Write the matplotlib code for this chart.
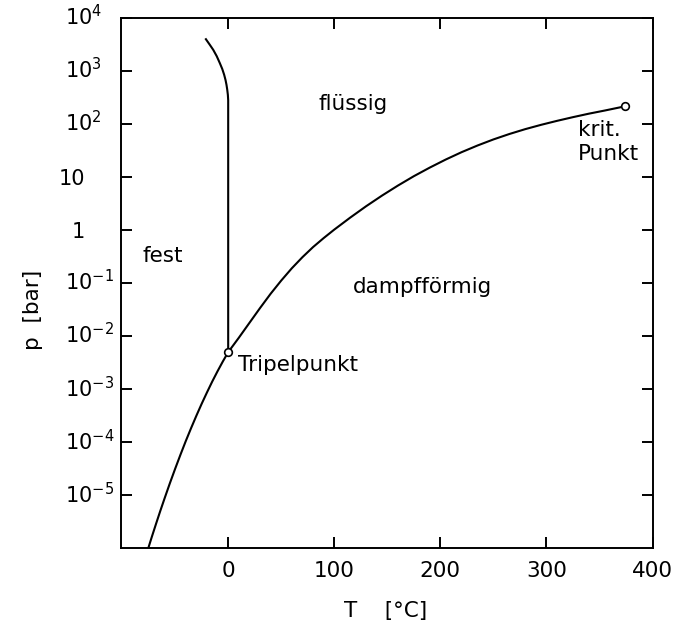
import matplotlib
matplotlib.use('Agg')

import matplotlib.pyplot as plt
from matplotlib.transforms import blended_transform_factory

plt.rcParams['font.family'] = ['DejaVu Sans']
plt.rcParams['mathtext.fontset'] = 'dejavusans'
plt.rcParams['mathtext.default'] = 'regular'

# Sublimationskurve (fest <-> dampfförmig), T in °C, p in bar
subl_T = [-76, -72, -68, -64, -60, -55, -50, -45, -40, -35, -30, -25, -20, -15, -10, -5, 0]
subl_p = [9.1e-7, 1.64e-6, 2.90e-6, 5.07e-6, 8.7e-6, 1.68e-5, 3.16e-5, 5.82e-5, 1.05e-4,
          1.84e-4, 3.16e-4, 5.31e-4, 8.7e-4, 1.40e-3, 2.19e-3, 3.35e-3, 5.0e-3]

# Dampfdruckkurve (flüssig <-> dampfförmig)
dampf_T = [0, 10, 20, 30, 40, 50, 60, 70, 80, 90, 100, 115, 130, 145, 160, 175, 190,
           205, 220, 235, 250, 265, 280, 295, 310, 325, 340, 355, 374]
dampf_p = [5.0e-3, 0.00933, 0.0178, 0.0339, 0.0631, 0.112, 0.191, 0.309, 0.479, 0.708,
           1.023, 1.72, 2.82, 4.48, 6.92, 10.4, 15.1, 21.4, 29.5, 39.4, 51.3, 64.9, 80.2,
           96.8, 115, 135, 157, 180, 216]

# Schmelzkurve (fest <-> flüssig)
schmelz_T = [0, 0, -0.3, -0.9, -1.6, -2.5, -3.8, -5.6, -7.9, -10.8, -14.1, -17.5, -21]
schmelz_p = [5.0e-3, 282, 355, 447, 550, 676, 851, 1096, 1413, 1905, 2512, 3162, 3981]

# markierte Punkte
tripel = (0, 5.0e-3)
krit = (374, 216)

x_ticks = [0, 100, 200, 300, 400]
y_ticks = [1e4, 1e3, 1e2, 1e1, 1, 1e-1, 1e-2, 1e-3, 1e-4, 1e-5]
y_ticklabels = ['$10^{4}$', '$10^{3}$', '$10^{2}$', '10', '1', '$10^{-1}$',
                '$10^{-2}$', '$10^{-3}$', '$10^{-4}$', '$10^{-5}$']

fig = plt.figure(figsize=(6.8, 6.25), dpi=100)
ax = fig.add_axes([0.178, 0.1227, 0.7816, 0.8485])

ax.plot(subl_T, subl_p, color='black', lw=1.5)
ax.plot(dampf_T, dampf_p, color='black', lw=1.5)
ax.plot(schmelz_T, schmelz_p, color='black', lw=1.5)

for pt in (tripel, krit):
    ax.plot(*pt, marker='o', ms=5.5, mfc='white', mec='black', mew=1.2, zorder=5)

ax.set_yscale('log')
ax.set_xlim(-101, 400)
ax.set_ylim(1e-6, 1e4)

ax.set_xticks(x_ticks)
ax.set_xticklabels([str(t) for t in x_ticks])
ax.set_yticks(y_ticks)
ax.set_yticklabels([])
ax.minorticks_off()

ax.tick_params(direction='in', length=8, width=1.4, top=True, right=True,
               color='black')
ax.tick_params(axis='x', pad=9)
for lab in ax.get_xticklabels():
    lab.set_fontsize(15.5)
    lab.set_family(['Liberation Sans Narrow', 'DejaVu Sans'])
for s in ax.spines.values():
    s.set_linewidth(1.4)

# y-Beschriftung: "10" am Strich zentriert, Exponent darüber
trans = blended_transform_factory(ax.transAxes, ax.transData)
for val, lab in zip(y_ticks, y_ticklabels):
    if lab.startswith('$'):
        xpos, ha = -0.105, 'left'
    else:
        xpos, ha = -0.068, 'right'
    ax.annotate(lab, xy=(xpos, val), xycoords=trans, xytext=(0, -5.4),
                textcoords='offset points', ha=ha, va='baseline', fontsize=15,
                annotation_clip=False)

fs = 15.5
ax.text(-62, 0.25, 'fest', ha='center', va='baseline', fontsize=fs)
ax.text(118, 184, 'flüssig', ha='center', va='baseline', fontsize=fs)
ax.text(183, 0.065, 'dampfförmig', ha='center', va='baseline', fontsize=fs)
ax.text(9, 0.0022, 'Tripelpunkt', ha='left', va='baseline', fontsize=fs)
ax.text(330, 60, 'krit.', ha='left', va='baseline', fontsize=fs)
ax.text(330, 21, 'Punkt', ha='left', va='baseline', fontsize=fs)

ax.set_xlabel('T    [°C]', fontsize=fs)
ax.xaxis.set_label_coords(0.497, -0.099)
ax.set_ylabel('p  [bar]', fontsize=fs)
ax.yaxis.set_label_coords(-0.147, 0.449)

fig.savefig('out.png', dpi=100)
